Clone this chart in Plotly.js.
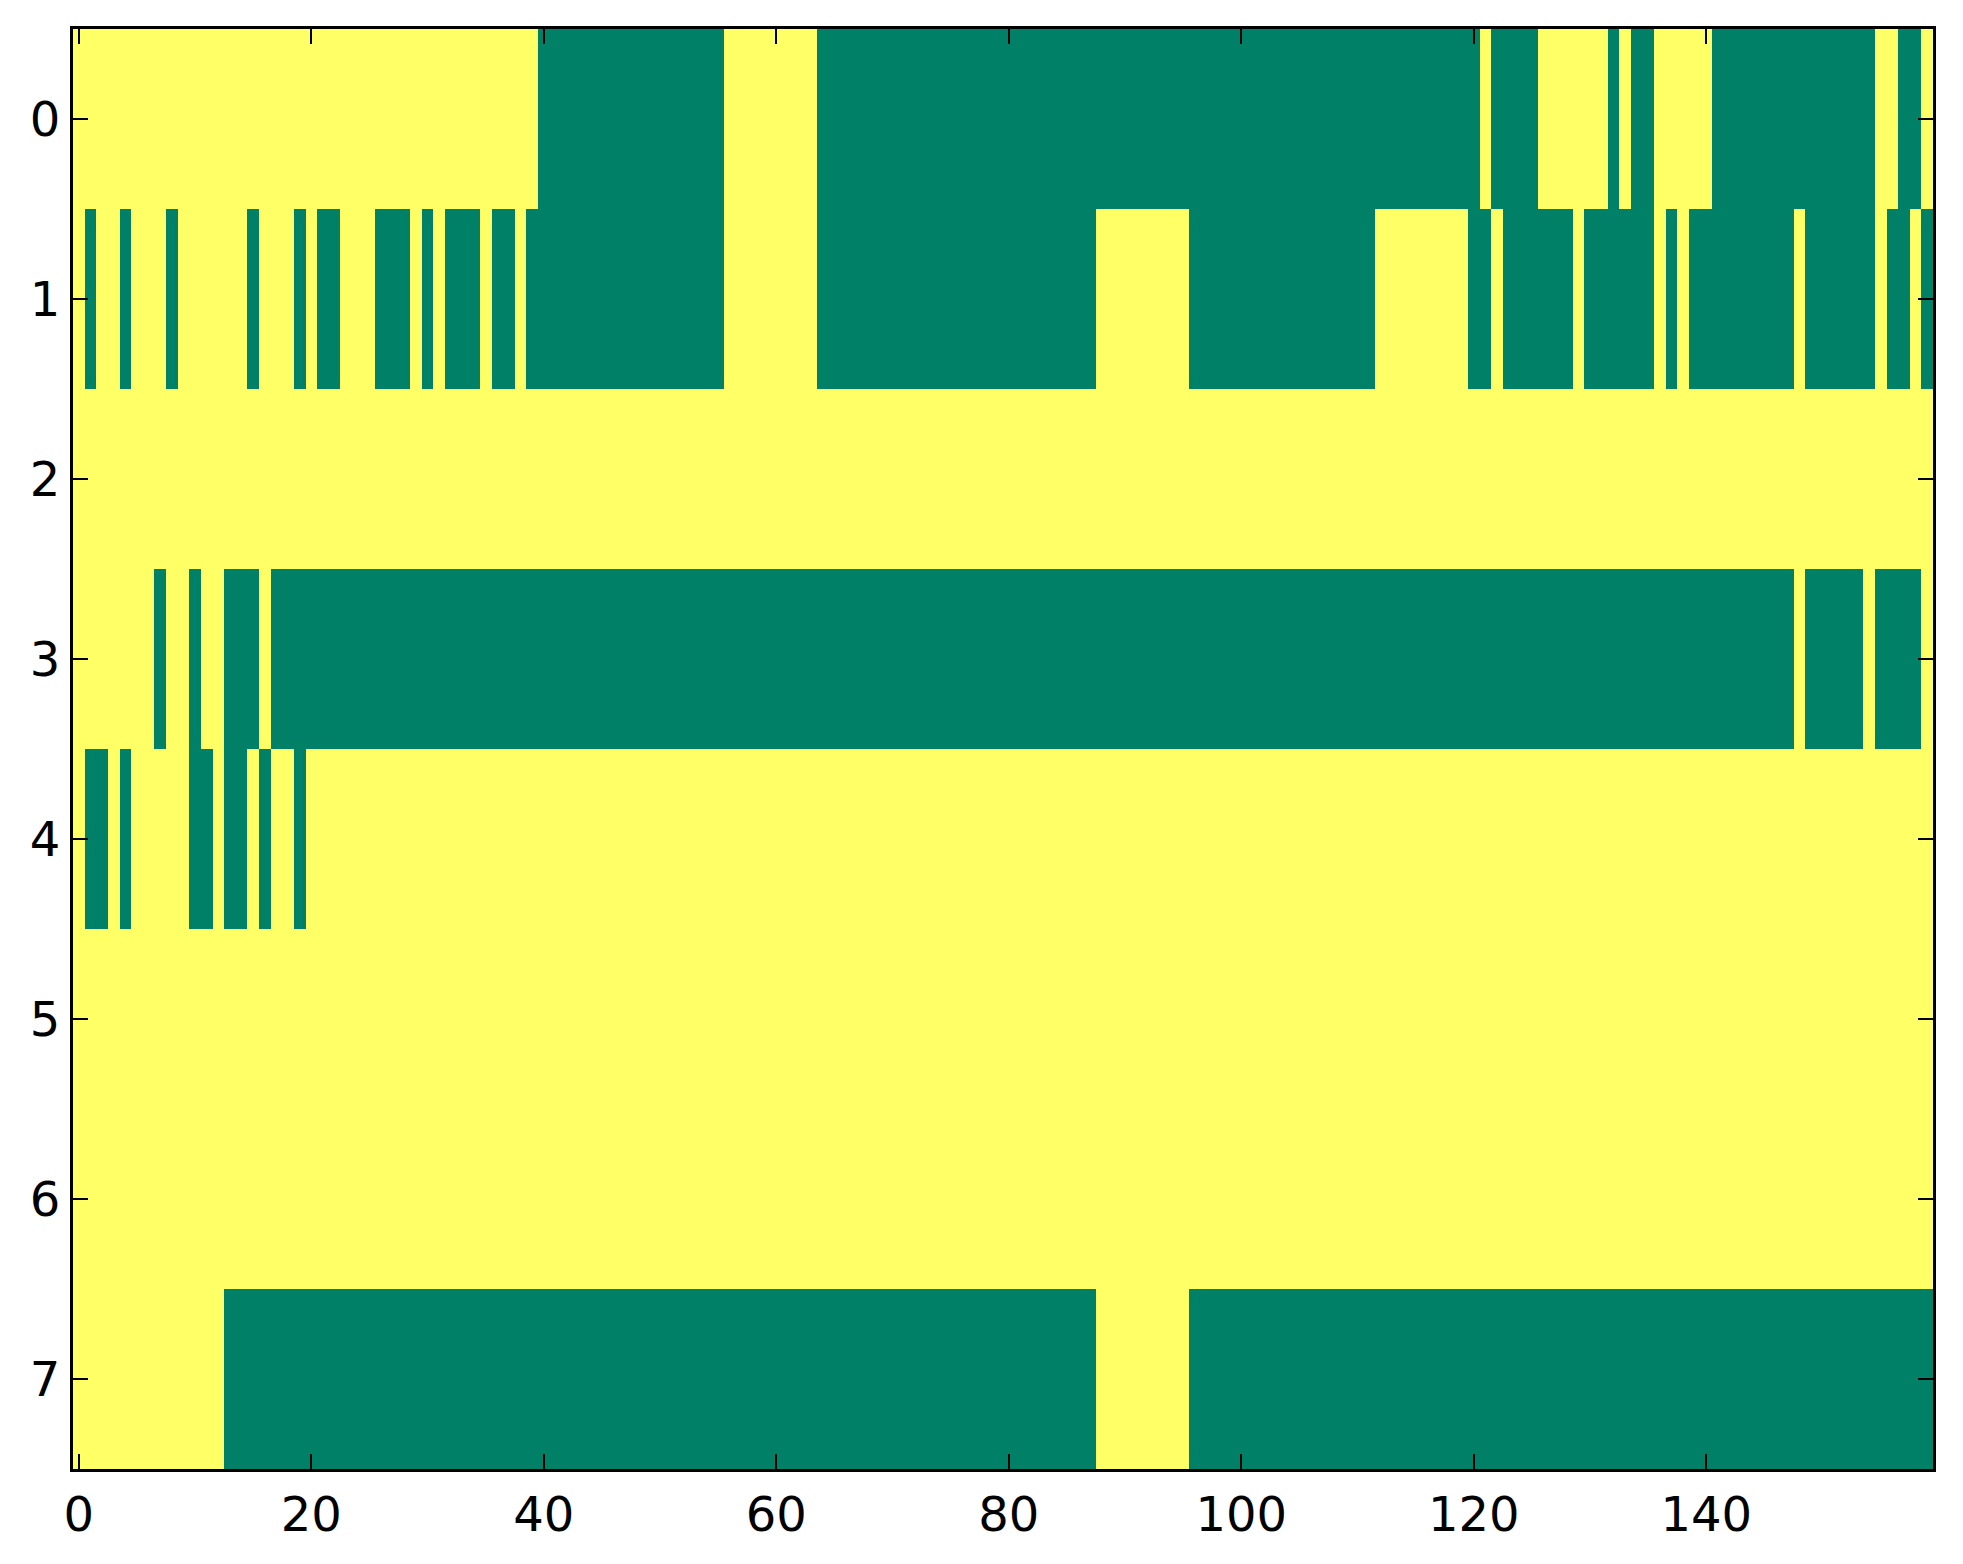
<!DOCTYPE html>
<html>
<head>
<meta charset="utf-8">
<script src="https://cdn.plot.ly/plotly-3.0.1.min.js"></script>
<style>html,body{margin:0;padding:0;background:#fff;}#chart{width:1963px;height:1564px;}</style>
</head>
<body>
<div id="chart"></div>
<script>
// Binary matrix: 1 = yellow, 0 = green. 8 rows x 160 columns.
var row0 = [1,1,1,1,1,1,1,1,1,1, 1,1,1,1,1,1,1,1,1,1, 1,1,1,1,1,1,1,1,1,1, 1,1,1,1,1,1,1,1,1,1,
            0,0,0,0,0,0,0,0,0,0, 0,0,0,0,0,0,1,1,1,1, 1,1,1,1,0,0,0,0,0,0, 0,0,0,0,0,0,0,0,0,0,
            0,0,0,0,0,0,0,0,0,0, 0,0,0,0,0,0,0,0,0,0, 0,0,0,0,0,0,0,0,0,0, 0,0,0,0,0,0,0,0,0,0,
            0,1,0,0,0,0,1,1,1,1, 1,1,0,1,0,0,1,1,1,1, 1,0,0,0,0,0,0,0,0,0, 0,0,0,0,0,1,1,0,0,1];
var row1 = [1,0,1,1,0,1,1,1,0,1, 1,1,1,1,1,0,1,1,1,0, 1,0,0,1,1,1,0,0,0,1, 0,1,0,0,0,1,0,0,1,0,
            0,0,0,0,0,0,0,0,0,0, 0,0,0,0,0,0,1,1,1,1, 1,1,1,1,0,0,0,0,0,0, 0,0,0,0,0,0,0,0,0,0,
            0,0,0,0,0,0,0,0,1,1, 1,1,1,1,1,1,0,0,0,0, 0,0,0,0,0,0,0,0,0,0, 0,0,1,1,1,1,1,1,1,1,
            0,0,1,0,0,0,0,0,0,1, 0,0,0,0,0,0,1,0,1,0, 0,0,0,0,0,0,0,0,1,0, 0,0,0,0,0,1,0,0,1,0];
var row2 = [1,1,1,1,1,1,1,1,1,1, 1,1,1,1,1,1,1,1,1,1, 1,1,1,1,1,1,1,1,1,1, 1,1,1,1,1,1,1,1,1,1,
            1,1,1,1,1,1,1,1,1,1, 1,1,1,1,1,1,1,1,1,1, 1,1,1,1,1,1,1,1,1,1, 1,1,1,1,1,1,1,1,1,1,
            1,1,1,1,1,1,1,1,1,1, 1,1,1,1,1,1,1,1,1,1, 1,1,1,1,1,1,1,1,1,1, 1,1,1,1,1,1,1,1,1,1,
            1,1,1,1,1,1,1,1,1,1, 1,1,1,1,1,1,1,1,1,1, 1,1,1,1,1,1,1,1,1,1, 1,1,1,1,1,1,1,1,1,1];
var row3 = [1,1,1,1,1,1,1,0,1,1, 0,1,1,0,0,0,1,0,0,0, 0,0,0,0,0,0,0,0,0,0, 0,0,0,0,0,0,0,0,0,0,
            0,0,0,0,0,0,0,0,0,0, 0,0,0,0,0,0,0,0,0,0, 0,0,0,0,0,0,0,0,0,0, 0,0,0,0,0,0,0,0,0,0,
            0,0,0,0,0,0,0,0,0,0, 0,0,0,0,0,0,0,0,0,0, 0,0,0,0,0,0,0,0,0,0, 0,0,0,0,0,0,0,0,0,0,
            0,0,0,0,0,0,0,0,0,0, 0,0,0,0,0,0,0,0,0,0, 0,0,0,0,0,0,0,0,1,0, 0,0,0,0,1,0,0,0,0,1];
var row4 = [1,0,0,1,0,1,1,1,1,1, 0,0,1,0,0,1,0,1,1,0, 1,1,1,1,1,1,1,1,1,1, 1,1,1,1,1,1,1,1,1,1,
            1,1,1,1,1,1,1,1,1,1, 1,1,1,1,1,1,1,1,1,1, 1,1,1,1,1,1,1,1,1,1, 1,1,1,1,1,1,1,1,1,1,
            1,1,1,1,1,1,1,1,1,1, 1,1,1,1,1,1,1,1,1,1, 1,1,1,1,1,1,1,1,1,1, 1,1,1,1,1,1,1,1,1,1,
            1,1,1,1,1,1,1,1,1,1, 1,1,1,1,1,1,1,1,1,1, 1,1,1,1,1,1,1,1,1,1, 1,1,1,1,1,1,1,1,1,1];
var row5 = [1,1,1,1,1,1,1,1,1,1, 1,1,1,1,1,1,1,1,1,1, 1,1,1,1,1,1,1,1,1,1, 1,1,1,1,1,1,1,1,1,1,
            1,1,1,1,1,1,1,1,1,1, 1,1,1,1,1,1,1,1,1,1, 1,1,1,1,1,1,1,1,1,1, 1,1,1,1,1,1,1,1,1,1,
            1,1,1,1,1,1,1,1,1,1, 1,1,1,1,1,1,1,1,1,1, 1,1,1,1,1,1,1,1,1,1, 1,1,1,1,1,1,1,1,1,1,
            1,1,1,1,1,1,1,1,1,1, 1,1,1,1,1,1,1,1,1,1, 1,1,1,1,1,1,1,1,1,1, 1,1,1,1,1,1,1,1,1,1];
var row6 = [1,1,1,1,1,1,1,1,1,1, 1,1,1,1,1,1,1,1,1,1, 1,1,1,1,1,1,1,1,1,1, 1,1,1,1,1,1,1,1,1,1,
            1,1,1,1,1,1,1,1,1,1, 1,1,1,1,1,1,1,1,1,1, 1,1,1,1,1,1,1,1,1,1, 1,1,1,1,1,1,1,1,1,1,
            1,1,1,1,1,1,1,1,1,1, 1,1,1,1,1,1,1,1,1,1, 1,1,1,1,1,1,1,1,1,1, 1,1,1,1,1,1,1,1,1,1,
            1,1,1,1,1,1,1,1,1,1, 1,1,1,1,1,1,1,1,1,1, 1,1,1,1,1,1,1,1,1,1, 1,1,1,1,1,1,1,1,1,1];
var row7 = [1,1,1,1,1,1,1,1,1,1, 1,1,1,0,0,0,0,0,0,0, 0,0,0,0,0,0,0,0,0,0, 0,0,0,0,0,0,0,0,0,0,
            0,0,0,0,0,0,0,0,0,0, 0,0,0,0,0,0,0,0,0,0, 0,0,0,0,0,0,0,0,0,0, 0,0,0,0,0,0,0,0,0,0,
            0,0,0,0,0,0,0,0,1,1, 1,1,1,1,1,1,0,0,0,0, 0,0,0,0,0,0,0,0,0,0, 0,0,0,0,0,0,0,0,0,0,
            0,0,0,0,0,0,0,0,0,0, 0,0,0,0,0,0,0,0,0,0, 0,0,0,0,0,0,0,0,0,0, 0,0,0,0,0,0,0,0,0,0];

var xTickVals = [0, 20, 40, 60, 80, 100, 120, 140];
var xTickText = ["0", "20", "40", "60", "80", "100", "120", "140"];
var yTickVals = [0, 1, 2, 3, 4, 5, 6, 7];
var yTickText = ["0", "1", "2", "3", "4", "5", "6", "7"];

var z = [row0, row1, row2, row3, row4, row5, row6, row7];

var trace = {
  type: 'heatmap',
  z: z,
  zmin: 0,
  zmax: 1,
  colorscale: [[0, '#008066'], [1, '#ffff66']],
  showscale: false,
  zsmooth: false,
  hoverinfo: 'skip'
};

var axisFont = {family: 'DejaVu Sans, sans-serif', size: 48, color: '#000'};

var layout = {
  width: 1963,
  height: 1564,
  margin: {l: 73, r: 30, t: 29, b: 95, pad: 0},
  paper_bgcolor: '#ffffff',
  plot_bgcolor: '#ffffff',
  showlegend: false,
  xaxis: {
    range: [-0.5, 159.5],
    tickvals: xTickVals,
    ticktext: xTickText,
    ticks: 'inside',
    ticklen: 15,
    tickwidth: 2,
    tickcolor: '#000',
    showline: true,
    linecolor: '#000',
    linewidth: 3,
    mirror: 'ticks',
    showgrid: false,
    zeroline: false,
    tickfont: axisFont,
    ticklabelstandoff: 1
  },
  yaxis: {
    range: [7.5, -0.5],
    tickvals: yTickVals,
    ticktext: yTickText,
    ticks: 'inside',
    ticklen: 15,
    tickwidth: 2,
    tickcolor: '#000',
    showline: true,
    linecolor: '#000',
    linewidth: 3,
    mirror: 'ticks',
    showgrid: false,
    zeroline: false,
    tickfont: axisFont,
    ticklabelstandoff: 0
  }
};

Plotly.newPlot('chart', [trace], layout, {displayModeBar: false, staticPlot: true});
</script>
</body>
</html>
